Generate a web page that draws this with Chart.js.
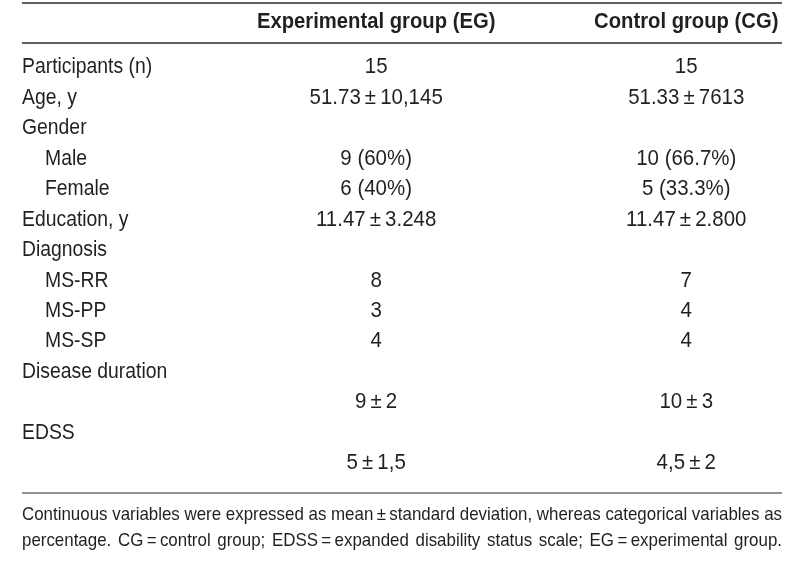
<!DOCTYPE html>
<html>
<head>
<meta charset="utf-8">
<script src="https://cdn.jsdelivr.net/npm/chart.js@4.4.1/dist/chart.umd.min.js"></script>
<style>
  html, body { margin: 0; padding: 0; background: #fff; }
  #wrap { width: 800px; height: 581px; position: relative; }
</style>
</head>
<body>
<div id="wrap"><canvas id="chart"></canvas></div>
<script>
// table content
const columnHeaders = ["", "Experimental group (EG)", "Control group (CG)"];
const rowLabels = [
  "Participants (n)", "Age, y", "Gender", "Male", "Female", "Education, y",
  "Diagnosis", "MS-RR", "MS-PP", "MS-SP", "Disease duration", "", "EDSS", ""
];
const rowIndent = [0, 0, 0, 1, 1, 0, 0, 1, 1, 1, 0, 0, 0, 0];
const egValues = [
  "15", "51.73±10,145", "", "9 (60%)", "6 (40%)", "11.47±3.248",
  "", "8", "3", "4", "", "9±2", "", "5±1,5"
];
const cgValues = [
  "15", "51.33±7613", "", "10 (66.7%)", "5 (33.3%)", "11.47±2.800",
  "", "7", "4", "4", "", "10±3", "", "4,5±2"
];
const footnoteLines = [
  "Continuous variables were expressed as mean±standard deviation, whereas categorical variables as",
  "percentage. CG=control group; EDSS=expanded disability status scale; EG=experimental group."
];

// layout
const colX = [0, 0.466, 0.874];
const textColor = "#231f20";
const ruleColor = "#2b2b2b";
const fontFamily = "'Liberation Sans', Arial, sans-serif";

const spaced = (t) => t.replace(/±/g, "\u2009±\u2009").replace(/=/g, "\u2009=\u2009");

const columns = [rowLabels, egValues, cgValues];
const datasets = columns.map((texts, c) => ({
  label: columnHeaders[c],
  texts: texts,
  data: texts.map((_, i) => ({ x: colX[c], y: i })),
  pointRadius: 0,
  pointHoverRadius: 0,
}));

const drawText = (ctx, text, x, y, align, sx) => {
  ctx.save();
  ctx.translate(x, y);
  ctx.scale(sx, 1);
  ctx.textAlign = align;
  ctx.fillText(text, 0, 0);
  ctx.restore();
};

const hline = (ctx, x1, x2, y, w) => {
  ctx.save();
  ctx.strokeStyle = ruleColor;
  ctx.lineWidth = w;
  ctx.beginPath();
  ctx.moveTo(x1, y);
  ctx.lineTo(x2, y);
  ctx.stroke();
  ctx.restore();
};

const justify = (ctx, words, left, right, y, sx) => {
  const widths = words.map((w) => ctx.measureText(w).width * sx);
  const total = widths.reduce((a, b) => a + b, 0);
  const gap = (right - left - total) / (words.length - 1);
  let x = left;
  words.forEach((w, i) => {
    drawText(ctx, w, x, y, "left", sx);
    x += widths[i] + gap;
  });
};

const tablePlugin = {
  id: "tableText",
  afterDatasetsDraw(chart) {
    const ctx = chart.ctx;
    const area = chart.chartArea;
    const xs = chart.scales.x;

    ctx.save();
    ctx.fillStyle = textColor;
    ctx.textBaseline = "middle";

    // rules
    hline(ctx, area.left, area.right, area.top - 49, 1.6);
    hline(ctx, area.left, area.right, area.top - 9, 1.4);
    hline(ctx, area.left, area.right, area.bottom + 14.5, 1.2);

    // header
    ctx.font = "bold 22px " + fontFamily;
    columnHeaders.forEach((h, c) => {
      if (!h) return;
      drawText(ctx, h, xs.getPixelForValue(colX[c]), area.top - 30, "center", 0.92);
    });

    // cells
    ctx.font = "22px " + fontFamily;
    chart.data.datasets.forEach((ds, c) => {
      const meta = chart.getDatasetMeta(c);
      meta.data.forEach((pt, i) => {
        const t = ds.texts[i];
        if (!t) return;
        if (c === 0) {
          drawText(ctx, t, pt.x + rowIndent[i] * 23, pt.y, "left", 0.88);
        } else {
          drawText(ctx, spaced(t), pt.x, pt.y, "center", 0.93);
        }
      });
    });

    // footnote: first line sets the squeeze so it fills the width with normal spaces
    ctx.font = "19px " + fontFamily;
    const lines = footnoteLines.map((l) => spaced(l).split(" "));
    const first = lines[0];
    const wordsW = first.reduce((a, w) => a + ctx.measureText(w).width, 0);
    const spaceW = ctx.measureText(" ").width;
    const sx = (area.right - area.left) / (wordsW + (first.length - 1) * spaceW);
    lines.forEach((words, i) => {
      justify(ctx, words, area.left, area.right, area.bottom + 36 + i * 26, sx);
    });
    ctx.restore();
  },
};

new Chart(document.getElementById("chart"), {
  type: "scatter",
  data: { datasets: datasets },
  options: {
    responsive: true,
    maintainAspectRatio: false,
    animation: false,
    events: [],
    layout: { padding: { left: 22, right: 18, top: 52, bottom: 102.5 } },
    plugins: { legend: { display: false }, tooltip: { enabled: false } },
    scales: {
      x: { type: "linear", min: 0, max: 1, display: false },
      y: { type: "linear", min: -0.5, max: 13.5, reverse: true, display: false },
    },
  },
  plugins: [tablePlugin],
});
</script>
</body>
</html>
